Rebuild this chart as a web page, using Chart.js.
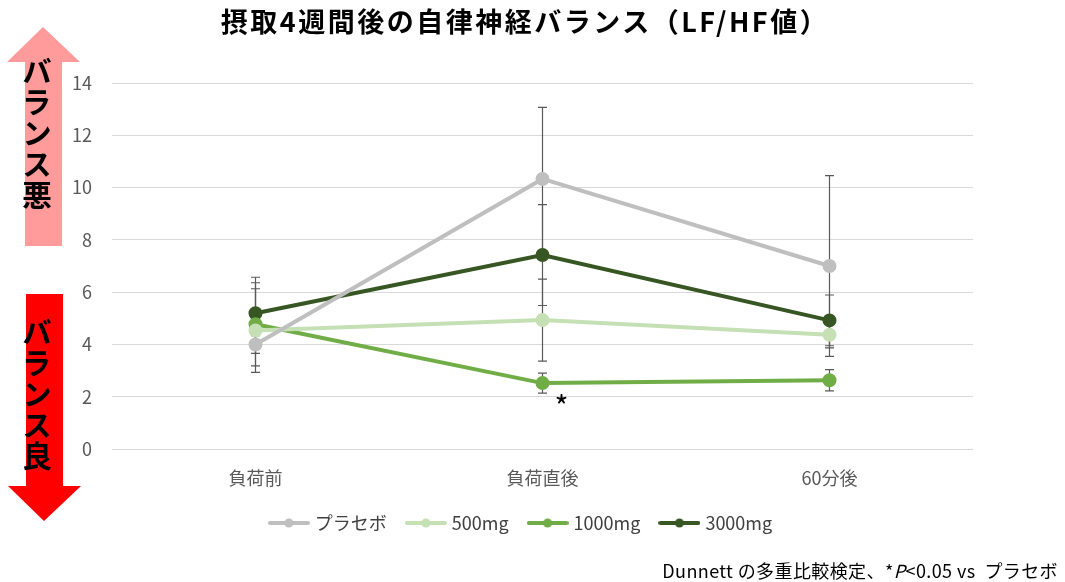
<!DOCTYPE html>
<html lang="ja">
<head>
  <meta charset="UTF-8" />
  <title>LF/HF</title>
  <script src="https://cdn.jsdelivr.net/npm/chart.js"></script>
  <style>
    body { margin: 0; background: #fff; font-family: "Noto Sans CJK JP", sans-serif; }
    #wrap { position: relative; width: 1065px; height: 582px; overflow: hidden; }
    #title { position: absolute; top: 1px; left: 7px; width: 1036px; text-align: center; font-size: 27px; letter-spacing: 2.5px; font-weight: bold; color: #000; }
    .arrow { position: absolute; }
    .label { position: absolute; writing-mode: vertical-rl; font-size: 30px; font-weight: bold; color: #000; line-height: 1; letter-spacing: 1px; }
    #note { position: absolute; right: 7px; top: 557px; font-size: 18px; letter-spacing: 0.4px; color: #000; }
    canvas { position: absolute; left: 0; top: 0; }
  </style>
</head>
<body>
<div id="wrap">
  <canvas id="chart" width="1065" height="582"></canvas>
  <div id="title">摂取4週間後の自律神経バランス（LF/HF値）</div>
  <svg class="arrow" style="left:0;top:0" width="100" height="582">
    <polygon points="43,27 80,62 62,62 62,246 25,246 25,62 7,62" fill="#FF9B9B"/>
    <polygon points="26,294 63,294 63,486 81,486 44,521 8,486 26,486" fill="#FF0000"/>
  </svg>
  <div class="label" style="left:22px;top:56px;">バランス悪</div>
  <div class="label" style="left:22px;top:317px;">バランス良</div>
  <div id="note">Dunnett の多重比較検定、*<i>P</i>&lt;0.05 vs &nbsp;プラセボ</div>
</div>
<script>
const labels = ['負荷前', '負荷直後', '60分後'];
const seriesNames = ['プラセボ', '500mg', '1000mg', '3000mg'];
const placebo = [4.0, 10.33, 7.0];
const mg500 = [4.53, 4.93, 4.37];
const mg1000 = [4.77, 2.52, 2.63];
const mg3000 = [5.19, 7.42, 4.92];
const errPlacebo = [0.34, 2.74, 3.46];
const err500 = [1.6, 1.57, 0.5];
const err1000 = [1.59, 0.38, 0.41];
const err3000 = [1.38, 1.93, 0.97];
const colors = ['#BFBFBF', '#C5E0B4', '#70AD47', '#375623'];

const values = [placebo, mg500, mg1000, mg3000];
const errors = [errPlacebo, err500, err1000, err3000];

// legend sample: short line with a dot in the middle
function legendIcon(color) {
  const c = document.createElement('canvas');
  c.width = 42; c.height = 12;
  const g = c.getContext('2d');
  g.strokeStyle = color; g.lineWidth = 4; g.lineCap = 'round';
  g.beginPath(); g.moveTo(2, 6); g.lineTo(40, 6); g.stroke();
  g.fillStyle = color;
  g.beginPath(); g.arc(21, 6, 4.5, 0, Math.PI * 2); g.fill();
  return c;
}
const icons = colors.map(legendIcon);

const errorBars = {
  id: 'errorBars',
  afterLayout(chart) {
    // legend sits a bit right of the plot centre in the original
    chart.legend.left += 7;
    chart.legend.right += 7;
    chart.legend.top -= 5;
    chart.legend.bottom -= 5;
  },
  beforeDatasetsDraw(chart) {
    const ctx = chart.ctx, x = chart.scales.x, y = chart.scales.y;
    ctx.save();
    ctx.strokeStyle = '#595959';
    ctx.lineWidth = 1.2;
    values.forEach((vals, s) => {
      vals.forEach((v, i) => {
        const px = x.getPixelForValue(i);
        const top = y.getPixelForValue(v + errors[s][i]);
        const bot = y.getPixelForValue(v - errors[s][i]);
        ctx.beginPath();
        ctx.moveTo(px, top); ctx.lineTo(px, bot);
        ctx.moveTo(px - 4.5, top); ctx.lineTo(px + 4.5, top);
        ctx.moveTo(px - 4.5, bot); ctx.lineTo(px + 4.5, bot);
        ctx.stroke();
      });
    });
    ctx.restore();
  },
  afterDatasetsDraw(chart) {
    const ctx = chart.ctx, x = chart.scales.x, y = chart.scales.y;
    ctx.save();
    ctx.fillStyle = '#000';
    ctx.font = '30px "Noto Sans CJK JP"';
    ctx.textAlign = 'center';
    ctx.textBaseline = 'middle';
    ctx.fillText('*', x.getPixelForValue(1) + 19, y.getPixelForValue(mg1000[1]) + 23);
    ctx.restore();
  }
};

new Chart(document.getElementById('chart'), {
  type: 'line',
  data: {
    labels: labels,
    datasets: seriesNames.map((name, s) => ({
      label: name,
      data: values[s],
      borderColor: colors[s],
      backgroundColor: colors[s],
      borderWidth: 4,
      pointRadius: 5,
      pointHoverRadius: 5,
      tension: 0
    }))
  },
  options: {
    responsive: false,
    animation: false,
    layout: { padding: { left: 57, right: 92, top: 83, bottom: 35 } },
    scales: {
      x: {
        offset: true,
        grid: { display: false },
        border: { display: false },
        ticks: { color: '#595959', font: { size: 18, family: '"Noto Sans CJK JP"' }, padding: 10 },
        afterFit(scale) { scale.height = 48; }
      },
      y: {
        min: 0, max: 14,
        ticks: { stepSize: 2, color: '#595959', font: { size: 18, family: '"Noto Sans CJK JP"' }, padding: 20 },
        grid: { color: '#D9D9D9', drawTicks: false },
        border: { display: false },
        afterFit(scale) { scale.width = 55; }
      }
    },
    plugins: {
      legend: {
        position: 'bottom',
        labels: {
          usePointStyle: true,
          pointStyleWidth: 34,
          padding: 22,
          color: '#404040',
          font: { size: 18, family: '"Noto Sans CJK JP"' },
          generateLabels(chart) {
            const items = Chart.defaults.plugins.legend.labels.generateLabels(chart);
            items.forEach((it, i) => { it.pointStyle = icons[i]; });
            return items;
          }
        }
      },
      tooltip: { enabled: false }
    }
  },
  plugins: [errorBars]
});
</script>
</body>
</html>
